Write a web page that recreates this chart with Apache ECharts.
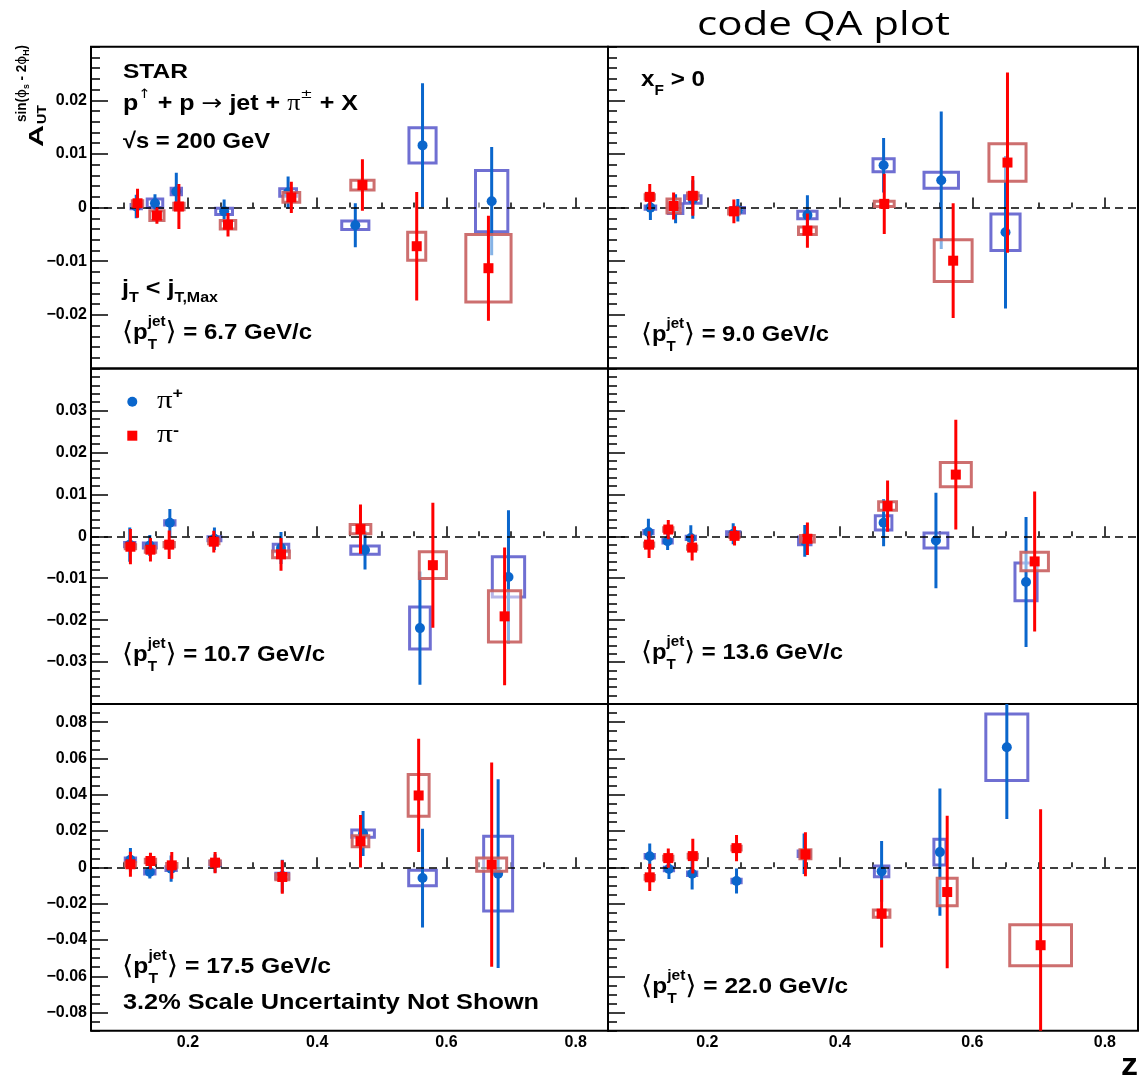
<!DOCTYPE html>
<html><head><meta charset="utf-8">
<script src="https://cdn.jsdelivr.net/npm/echarts@6/dist/echarts.min.js"></script>
<style>html,body{margin:0;padding:0;background:#fff}#c{width:1140px;height:1080px}</style>
</head><body><div id="c"></div><script>
// ---------------- DATA ----------------
// each row: [z, A_UT, stat. error, syst. error (box half-height), box half-width in z]
const piPlus_pt67 = [
  [0.120, 0.0002, 0.0022, 0.0004, 0.008], [0.149, 0.0008, 0.0017, 0.0008, 0.012],
  [0.182, 0.0030, 0.0035, 0.0006, 0.008], [0.256, -0.0007, 0.0022, 0.0006, 0.013],
  [0.355, 0.0028, 0.0030, 0.0007, 0.013], [0.459, -0.0033, 0.0041, 0.0008, 0.021],
  [0.563, 0.0116, 0.0116, 0.0033, 0.021], [0.670, 0.0012, 0.0101, 0.0057, 0.025]];
const piMinus_pt67 = [
  [0.122, 0.0008, 0.0027, 0.0005, 0.008], [0.152, -0.0015, 0.0015, 0.0009, 0.011],
  [0.186, 0.0002, 0.0042, 0.0006, 0.008], [0.262, -0.0032, 0.0022, 0.0008, 0.012],
  [0.360, 0.0019, 0.0029, 0.0009, 0.013], [0.470, 0.0042, 0.0048, 0.0009, 0.018],
  [0.554, -0.0072, 0.0101, 0.0026, 0.014], [0.665, -0.0113, 0.0098, 0.0063, 0.035]];
const piPlus_pt90 = [
  [0.114, 0.0000, 0.0023, 0.0003, 0.008], [0.152, -0.0002, 0.0027, 0.0009, 0.011],
  [0.178, 0.0015, 0.0036, 0.0007, 0.0125], [0.246, -0.0005, 0.0021, 0.0005, 0.010],
  [0.351, -0.0014, 0.0037, 0.0007, 0.0146], [0.466, 0.0079, 0.0051, 0.0012, 0.016],
  [0.553, 0.0051, 0.0128, 0.0015, 0.026], [0.650, -0.0046, 0.0142, 0.0034, 0.022]];
const piMinus_pt90 = [
  [0.113, 0.0020, 0.0024, 0.0004, 0.007], [0.149, 0.0003, 0.0025, 0.0013, 0.010],
  [0.178, 0.0022, 0.0037, 0.0005, 0.008], [0.240, -0.0007, 0.0022, 0.0005, 0.008],
  [0.351, -0.0043, 0.0032, 0.0007, 0.0135], [0.467, 0.0007, 0.0056, 0.0005, 0.015],
  [0.571, -0.0099, 0.0107, 0.0039, 0.0286], [0.653, 0.0084, 0.0168, 0.0035, 0.028]];
const piPlus_pt107 = [
  [0.110, -0.0020, 0.0041, 0.0005, 0.008], [0.141, -0.0022, 0.0025, 0.0006, 0.010],
  [0.172, 0.0032, 0.0033, 0.0005, 0.008], [0.241, -0.0006, 0.0027, 0.0005, 0.010],
  [0.344, -0.0028, 0.0038, 0.0009, 0.012], [0.474, -0.0033, 0.0046, 0.0010, 0.022],
  [0.559, -0.0219, 0.0135, 0.0050, 0.016], [0.696, -0.0097, 0.0159, 0.0048, 0.025]];
const piMinus_pt107 = [
  [0.111, -0.0025, 0.0042, 0.0005, 0.008], [0.142, -0.0032, 0.0028, 0.0006, 0.008],
  [0.171, -0.0020, 0.0034, 0.0005, 0.008], [0.240, -0.0013, 0.0026, 0.0005, 0.008],
  [0.344, -0.0043, 0.0039, 0.0008, 0.013], [0.467, 0.0017, 0.0059, 0.0011, 0.016],
  [0.579, -0.0069, 0.0149, 0.0032, 0.021], [0.690, -0.0191, 0.0164, 0.0061, 0.025]];
const piPlus_pt136 = [
  [0.111, 0.0010, 0.0032, 0.0004, 0.007], [0.140, -0.0012, 0.0021, 0.0004, 0.007],
  [0.175, -0.0004, 0.0030, 0.0004, 0.007], [0.239, 0.0006, 0.0025, 0.0005, 0.010],
  [0.347, -0.0011, 0.0038, 0.0009, 0.0094], [0.466, 0.0032, 0.0056, 0.0017, 0.0125],
  [0.545, -0.0010, 0.0114, 0.0018, 0.018], [0.681, -0.0109, 0.0155, 0.0045, 0.0167]];
const piMinus_pt136 = [
  [0.112, -0.0020, 0.0032, 0.0004, 0.007], [0.141, 0.0016, 0.0023, 0.0004, 0.007],
  [0.177, -0.0027, 0.0031, 0.0004, 0.007], [0.241, 0.0001, 0.0023, 0.0004, 0.007],
  [0.351, -0.0006, 0.0039, 0.0008, 0.0104], [0.472, 0.0072, 0.0061, 0.0010, 0.0135],
  [0.575, 0.0147, 0.0131, 0.0029, 0.0234], [0.694, -0.0060, 0.0167, 0.0022, 0.0208]];
const piPlus_pt175 = [
  [0.111, 0.0042, 0.0065, 0.0010, 0.008], [0.141, -0.0026, 0.0035, 0.0010, 0.008],
  [0.174, -0.0007, 0.0072, 0.0010, 0.008], [0.242, 0.0022, 0.0050, 0.0010, 0.008],
  [0.346, -0.0048, 0.0090, 0.0015, 0.010], [0.471, 0.0186, 0.0124, 0.0020, 0.0175],
  [0.563, -0.0059, 0.0272, 0.0043, 0.0214], [0.680, -0.0035, 0.0520, 0.0206, 0.0224]];
const piMinus_pt175 = [
  [0.111, 0.0017, 0.0069, 0.0010, 0.008], [0.142, 0.0035, 0.0045, 0.0010, 0.008],
  [0.175, 0.0011, 0.0074, 0.0010, 0.008], [0.242, 0.0026, 0.0058, 0.0010, 0.008],
  [0.346, -0.0053, 0.0092, 0.0015, 0.010], [0.467, 0.0144, 0.0145, 0.0030, 0.0129],
  [0.557, 0.0396, 0.0312, 0.0115, 0.0162], [0.670, 0.0015, 0.0562, 0.0037, 0.0232]];
const piPlus_pt220 = [
  [0.113, 0.0061, 0.0071, 0.0010, 0.007], [0.142, -0.0009, 0.0055, 0.0010, 0.007],
  [0.177, -0.0035, 0.0087, 0.0010, 0.007], [0.244, -0.0075, 0.0069, 0.0010, 0.007],
  [0.346, 0.0075, 0.0112, 0.0015, 0.009], [0.463, -0.0022, 0.0167, 0.0030, 0.0109],
  [0.551, 0.0084, 0.0350, 0.0071, 0.0091], [0.652, 0.0662, 0.0396, 0.0183, 0.0317]];
const piMinus_pt220 = [
  [0.113, -0.0055, 0.0075, 0.0010, 0.007], [0.141, 0.0051, 0.0053, 0.0010, 0.007],
  [0.178, 0.0062, 0.0096, 0.0010, 0.007], [0.244, 0.0106, 0.0072, 0.0010, 0.007],
  [0.348, 0.0072, 0.0121, 0.0025, 0.0083], [0.463, -0.0255, 0.0186, 0.0020, 0.0125],
  [0.562, -0.0136, 0.0420, 0.0076, 0.0151], [0.703, -0.0429, 0.0749, 0.0113, 0.0466]];

const PT_LABELS = ['6.7', '9.0', '10.7', '13.6', '17.5', '22.0'];
const Z_RANGE = [0.05, 0.85];
const Z_TICKS = [0.2, 0.4, 0.6, 0.8];
const Y_RANGES = [[-0.03, 0.03], [-0.04, 0.04], [-0.09, 0.09]];
const Y_TICKS = [
  [-0.02, -0.01, 0, 0.01, 0.02],
  [-0.03, -0.02, -0.01, 0, 0.01, 0.02, 0.03],
  [-0.08, -0.06, -0.04, -0.02, 0, 0.02, 0.04, 0.06, 0.08]];
const Y_MINOR_STEP = [0.002, 0.002, 0.005];
const Z_MINOR_STEP = 0.05;

const PANELS = [
  [piPlus_pt67, piMinus_pt67], [piPlus_pt90, piMinus_pt90],
  [piPlus_pt107, piMinus_pt107], [piPlus_pt136, piMinus_pt136],
  [piPlus_pt175, piMinus_pt175], [piPlus_pt220, piMinus_pt220]];

// ---------------- LAYOUT / STYLE ----------------
const COLS = [{left: 91, width: 517}, {left: 608, width: 530}];
const ROWS = [{top: 46.7, height: 321.8}, {top: 368.5, height: 335.5}, {top: 704, height: 326.7}];
const BLUE = '#0a66cc', BLUE_BOX = 'rgba(95,95,205,0.9)';
const RED = '#ff0000', RED_BOX = 'rgba(200,95,95,0.9)';
const BOX_FILL = 'rgba(255,255,255,0.5)';
const SANS = '"Liberation Sans"', DEJ = '"DejaVu Sans"', SERIF = '"Liberation Serif"';

function minorList(lo, hi, step, majors) {
  const out = [];
  const n = Math.round((hi - lo) / step);
  for (let i = 0; i <= n; i++) {
    const v = Math.round((lo + i * step) * 1e6) / 1e6;
    if (!majors.some(m => Math.abs(m - v) < 1e-9)) out.push(v);
  }
  return out;
}
const yFmt = v => Math.abs(v) < 1e-12 ? '0' : (v < 0 ? '\u2212' : '') + Math.abs(v).toFixed(2);
const labelFont = {fontFamily: SANS, fontWeight: 'bold', fontSize: 16, color: '#000'};

const grids = [], xAxes = [], yAxes = [], series = [];
const zMinor = minorList(Z_RANGE[0], Z_RANGE[1], Z_MINOR_STEP, Z_TICKS);

function errRender(color) {
  return function (params, api) {
    const z = api.value(0), a = api.value(1), e = api.value(2);
    const p1 = api.coord([z, a - e]), p2 = api.coord([z, a + e]);
    return {type: 'line', shape: {x1: p1[0], y1: p1[1], x2: p2[0], y2: p2[1]},
      style: {stroke: color, lineWidth: 3}};
  };
}
function boxRender(color) {
  return function (params, api) {
    const z = api.value(0), a = api.value(1), s = api.value(3), w = api.value(4);
    const p1 = api.coord([z - w, a + s]), p2 = api.coord([z + w, a - s]);
    return {type: 'rect', shape: {x: p1[0], y: p1[1], width: p2[0] - p1[0], height: p2[1] - p1[1]},
      style: {stroke: color, lineWidth: 3, fill: BOX_FILL}};
  };
}

PANELS.forEach((pair, i) => {
  const r = Math.floor(i / 2), c = i % 2;
  grids.push({left: COLS[c].left, width: COLS[c].width, top: ROWS[r].top, height: ROWS[r].height,
    show: true, borderColor: '#000', borderWidth: 2, backgroundColor: 'transparent',
    containLabel: false, outerBoundsMode: 'none'});
  const xi = xAxes.length, yi = yAxes.length;
  const tickStyle = {color: '#000', width: 1.5};
  xAxes.push({gridIndex: i, type: 'value', min: Z_RANGE[0], max: Z_RANGE[1], position: 'bottom',
    axisLine: {show: false}, splitLine: {show: false},
    axisTick: {show: true, inside: true, length: 10, customValues: Z_TICKS, lineStyle: tickStyle},
    axisLabel: Object.assign({show: r === 2, customValues: Z_TICKS, margin: 4,
      formatter: v => Number(v).toFixed(1)}, labelFont)});
  xAxes.push({gridIndex: i, type: 'value', min: Z_RANGE[0], max: Z_RANGE[1], position: 'bottom',
    axisLine: {show: false}, splitLine: {show: false},
    axisTick: {show: true, inside: true, length: 5, customValues: zMinor, lineStyle: tickStyle},
    axisLabel: {show: false}});
  const yr = Y_RANGES[r];
  yAxes.push({gridIndex: i, type: 'value', min: yr[0], max: yr[1], position: 'left',
    axisLine: {show: false}, splitLine: {show: false},
    axisTick: {show: true, inside: true, length: 17, customValues: Y_TICKS[r], lineStyle: tickStyle},
    axisLabel: Object.assign({show: c === 0, customValues: Y_TICKS[r], margin: 4, formatter: yFmt}, labelFont)});
  yAxes.push({gridIndex: i, type: 'value', min: yr[0], max: yr[1], position: 'left',
    axisLine: {show: false}, splitLine: {show: false},
    axisTick: {show: true, inside: true, length: 9,
      customValues: minorList(yr[0], yr[1], Y_MINOR_STEP[r], Y_TICKS[r]), lineStyle: tickStyle},
    axisLabel: {show: false}});

  const specs = [
    {data: pair[0], color: BLUE, box: BLUE_BOX, sym: 'circle', size: 10, name: '\u03c0+'},
    {data: pair[1], color: RED, box: RED_BOX, sym: 'rect', size: 10, name: '\u03c0-'}];
  specs.forEach((sp, k) => {
    const base = 2 + k * 3;
    const boxSeries = {type: 'custom', coordinateSystem: 'cartesian2d', xAxisIndex: xi, yAxisIndex: yi,
      data: sp.data, renderItem: boxRender(sp.box), clip: true, silent: true, z: base,
      encode: {x: 0, y: 1}};
    if (k === 0) {
      boxSeries.markLine = {silent: true, symbol: ['none', 'none'], label: {show: false},
        lineStyle: {type: [8, 5], color: '#000', width: 1.5}, data: [{yAxis: 0}], animation: false};
    }
    series.push(boxSeries);
    series.push({type: 'custom', coordinateSystem: 'cartesian2d', xAxisIndex: xi, yAxisIndex: yi,
      data: sp.data, renderItem: errRender(sp.color), clip: true, silent: true, z: base + 1,
      encode: {x: 0, y: 1}});
    series.push({type: 'scatter', name: sp.name, xAxisIndex: xi, yAxisIndex: yi,
      data: sp.data.map(d => [d[0], d[1]]), symbol: sp.sym, symbolSize: sp.size,
      itemStyle: {color: sp.color, opacity: 1}, silent: true, z: base + 2});
  });
});

// ---------------- TEXT ----------------
const mctx = document.createElement('canvas').getContext('2d');
function fontStr(it) { return `${it.w || 'bold'} ${it.s}px ${it.f || SANS}`; }
function mw(it) { mctx.font = fontStr(it); return mctx.measureText(it.t).width; }
function textEl(it, x, y) {
  return {type: 'text', x: x, y: y, scaleX: it.sx || 1, silent: true,
    style: {text: it.t, font: fontStr(it), fill: '#000', textAlign: 'left', textVerticalAlign: 'middle',
      align: 'left', verticalAlign: 'middle'}};
}
function formula(x0, yc, x1, parts) {
  let x = 0; const kids = [];
  for (const p of parts) {
    const items = p.stack || [p]; let m = 0;
    for (const it of items) { kids.push(textEl(it, x, it.dy || 0)); m = Math.max(m, mw(it) * (it.sx || 1)); }
    x += m;
  }
  const g = {type: 'group', x: x0, y: yc, children: kids};
  if (x1 != null) g.scaleX = (x1 - x0) / x;
  return g;
}
function ptParts(v) {
  return [{t: '\u27e8', s: 26, w: 'normal', f: DEJ}, {t: 'p', s: 22},
    {stack: [{t: 'jet', s: 14, dy: -11}, {t: 'T', s: 14, dy: 12}]},
    {t: '\u27e9', s: 26, w: 'normal', f: DEJ}, {t: ' = ' + v + ' GeV/c', s: 22}];
}

const graphics = [];
graphics.push(formula(697, 26, 950, [{t: 'code QA plot', s: 32, w: 'normal', f: '"Open Sans"'}]));
// panel 1 labels
graphics.push(formula(123, 72, 188, [{t: 'STAR', s: 20}]));
graphics.push(formula(123, 104, 358, [
  {t: 'p', s: 22}, {t: '\u2191', s: 13, w: 'normal', f: DEJ, dy: -9}, {t: ' + p ', s: 22},
  {t: '\u2192', s: 22, w: 'normal', f: DEJ}, {t: ' jet + ', s: 22},
  {t: '\u03c0', s: 23, w: 'normal', f: SERIF}, {t: '\u00b1', s: 13, w: 'normal', f: DEJ, dy: -9},
  {t: ' + X', s: 22}]));
graphics.push(formula(123, 142, 270, [{t: '\u221a', s: 22}, {t: 's = 200 GeV', s: 22}]));
graphics.push(formula(122, 289, 218, [{t: 'j', s: 22}, {t: 'T', s: 14, dy: 9}, {t: ' < ', s: 22},
  {t: 'j', s: 22}, {t: 'T,Max', s: 14, dy: 9}]));
graphics.push(formula(122, 333, 312, ptParts(PT_LABELS[0])));
// panel 2
graphics.push(formula(641, 80, 705, [{t: 'x', s: 22}, {t: 'F', s: 14, dy: 11}, {t: ' > 0', s: 22}]));
graphics.push(formula(641, 335, 829, ptParts(PT_LABELS[1])));
// panel 3..6
graphics.push(formula(122, 655, 325, ptParts(PT_LABELS[2])));
graphics.push(formula(641, 653, 843, ptParts(PT_LABELS[3])));
graphics.push(formula(122, 967, 331, ptParts(PT_LABELS[4])));
graphics.push(formula(123, 1003, 539, [{t: '3.2% Scale Uncertainty Not Shown', s: 22}]));
graphics.push(formula(641, 987, 848, ptParts(PT_LABELS[5])));
// axis title z
graphics.push(formula(1121, 1066, 1138, [{t: 'z', s: 31}]));
// legend
graphics.push({type: 'circle', shape: {cx: 132.3, cy: 401.7, r: 5}, style: {fill: BLUE}, silent: true});
graphics.push({type: 'rect', shape: {x: 127.3, y: 430.7, width: 10, height: 10}, style: {fill: RED}, silent: true});
graphics.push(formula(157, 401, 183, [{t: '\u03c0', s: 26, w: 'normal', f: SERIF}, {t: '+', s: 15, dy: -7}]));
graphics.push(formula(157, 435, 179, [{t: '\u03c0', s: 26, w: 'normal', f: SERIF}, {t: '-', s: 15, dy: -4}]));
// y-axis title (rotated); local x runs upward along the page
(function () {
  const kids = [];
  const A = {t: 'A', s: 20};
  const aw = mw(A);
  A.sx = 22 / aw;
  kids.push(textEl(A, 0, 0));
  const x0 = 23;
  const UT = {t: 'UT', s: 13};
  UT.sx = 19 / mw(UT);
  kids.push(textEl(UT, x0, 5));
  const sup = [{t: 'sin(', s: 14, dy: -15}, {t: '\u03d5', s: 14, dy: -15, w: 'normal', f: DEJ},
    {t: 's', s: 9, dy: -10}, {t: ' - 2', s: 14, dy: -15}, {t: '\u03d5', s: 14, dy: -15, w: 'normal', f: DEJ},
    {t: 'H', s: 9, dy: -10}, {t: ')', s: 14, dy: -15}];
  let tot = 0; for (const it of sup) tot += mw(it);
  const f = 77 / tot;
  let sx = x0 + 2;
  for (const it of sup) { it.sx = f; kids.push(textEl(it, sx, it.dy)); sx += mw(it) * f; }
  graphics.push({type: 'group', x: 37, y: 147, rotation: Math.PI / 2, children: kids});
})();

const chart = echarts.init(document.getElementById('c'), null, {renderer: 'canvas'});
chart.setOption({
  animation: false, backgroundColor: '#fff',
  grid: grids, xAxis: xAxes, yAxis: yAxes, series: series, graphic: graphics
});
</script></body></html>
